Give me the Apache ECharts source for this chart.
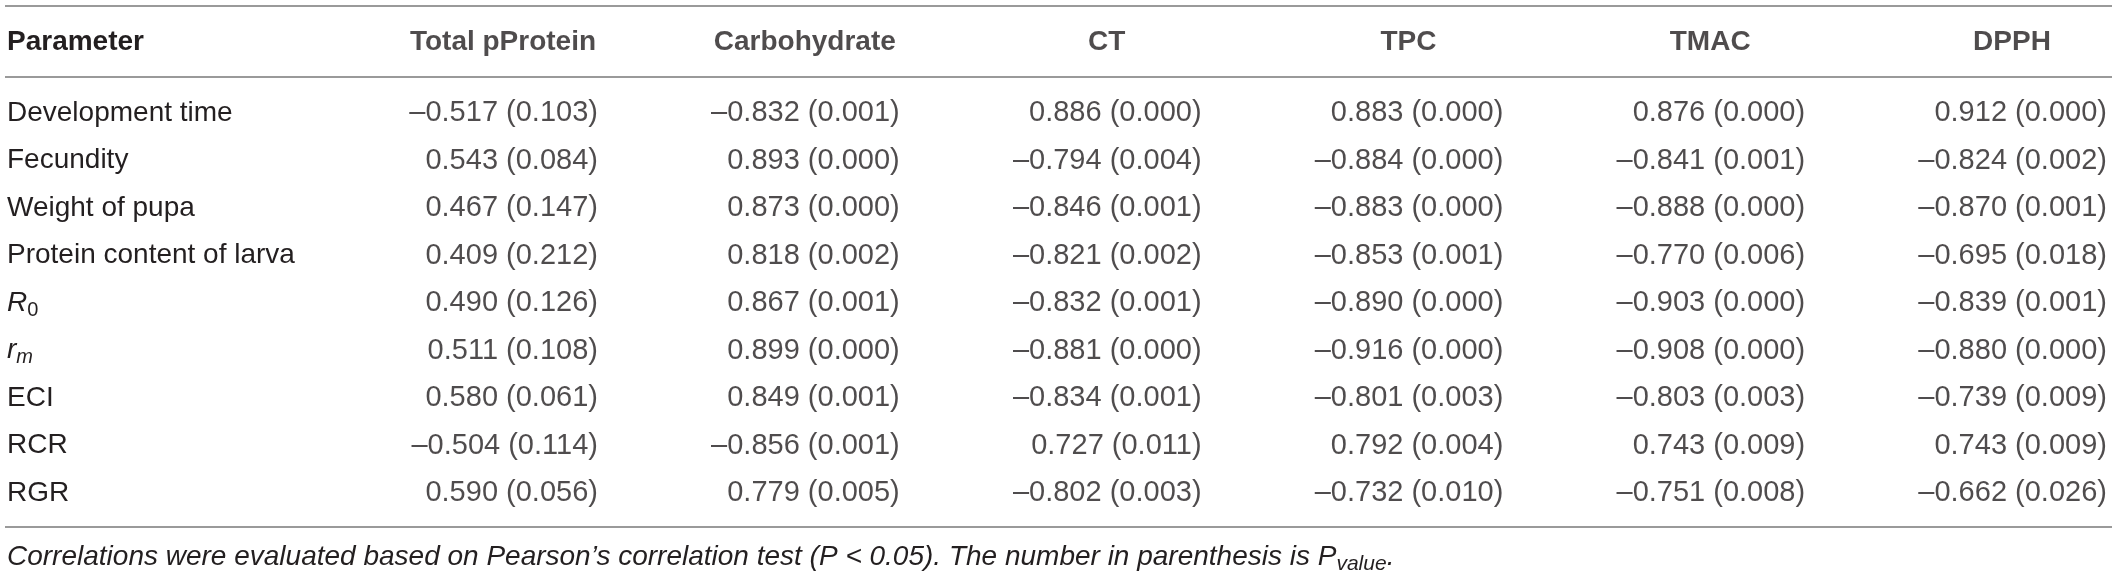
<!DOCTYPE html>
<html><head><meta charset="utf-8">
<script src="https://cdn.jsdelivr.net/npm/echarts@6/dist/echarts.min.js"></script>
<style>html,body{margin:0;padding:0;background:#fff}#c{width:2118px;height:575px}</style>
</head><body><div id="c"></div>
<script>
// ---- data ----
const parameters = ['Development time','Fecundity','Weight of pupa','Protein content of larva','R0','rm','ECI','RCR','RGR'];
const columns = ['Total pProtein','Carbohydrate','CT','TPC','TMAC','DPPH'];
const totalProteinR = [-0.517, 0.543, 0.467, 0.409, 0.490, 0.511, 0.580, -0.504, 0.590];
const totalProteinP = [0.103, 0.084, 0.147, 0.212, 0.126, 0.108, 0.061, 0.114, 0.056];
const carbohydrateR = [-0.832, 0.893, 0.873, 0.818, 0.867, 0.899, 0.849, -0.856, 0.779];
const carbohydrateP = [0.001, 0.000, 0.000, 0.002, 0.001, 0.000, 0.001, 0.001, 0.005];
const ctR = [0.886, -0.794, -0.846, -0.821, -0.832, -0.881, -0.834, 0.727, -0.802];
const ctP = [0.000, 0.004, 0.001, 0.002, 0.001, 0.000, 0.001, 0.011, 0.003];
const tpcR = [0.883, -0.884, -0.883, -0.853, -0.890, -0.916, -0.801, 0.792, -0.732];
const tpcP = [0.000, 0.000, 0.000, 0.001, 0.000, 0.000, 0.003, 0.004, 0.010];
const tmacR = [0.876, -0.841, -0.888, -0.770, -0.903, -0.908, -0.803, 0.743, -0.751];
const tmacP = [0.000, 0.001, 0.000, 0.006, 0.000, 0.000, 0.003, 0.009, 0.008];
const dpphR = [0.912, -0.824, -0.870, -0.695, -0.839, -0.880, -0.739, 0.743, -0.662];
const dpphP = [0.000, 0.002, 0.001, 0.018, 0.001, 0.000, 0.009, 0.009, 0.026];
const footnote = 'Correlations were evaluated based on Pearson\u2019s correlation test (P < 0.05). The number in parenthesis is P';

// ---- build ----
const rValues = [totalProteinR, carbohydrateR, ctR, tpcR, tmacR, dpphR];
const pValues = [totalProteinP, carbohydrateP, ctP, tpcP, tmacP, dpphP];
const fmt = v => (v < 0 ? '\u2013' : '') + Math.abs(v).toFixed(3);
const cells = [];
rValues.forEach((col, c) => col.forEach((r, i) => {
  cells.push([c, i, fmt(r) + ' (' + pValues[c][i].toFixed(3) + ')']);
}));
const headerCells = columns.map((name, c) => [c, 0, name]);

const W = 2118;
const colStep = 301.8;   // px per column
const firstRight = 598;  // px right edge of first data column
const xMin = -firstRight / colStep;
const xMax = xMin + W / colStep;

const FONT = '"Liberation Sans", Arial, Helvetica, sans-serif';
const TXT = '#231f20';

const chart = echarts.init(document.getElementById('c'), null, {renderer: 'canvas'});
const labelRich = {
  it: {fontStyle: 'italic', fontSize: 28, fontFamily: FONT, color: TXT},
  sub: {fontSize: 20, fontFamily: FONT, color: TXT, padding: [14, 0, 0, 0]},
  subit: {fontSize: 20, fontStyle: 'italic', fontFamily: FONT, color: TXT, padding: [14, 0, 0, 0]}
};
chart.setOption({
  animation: false,
  backgroundColor: '#fff',
  grid: [
    {left: 0, right: 0, top: 22, height: 40},
    {left: 0, right: 0, top: 89.25, height: 427.5}
  ],
  xAxis: [
    {gridIndex: 0, type: 'value', min: xMin, max: xMax, show: false},
    {gridIndex: 1, type: 'value', min: xMin, max: xMax, show: false}
  ],
  yAxis: [
    {gridIndex: 0, type: 'category', data: ['Parameter'], inverse: true,
     axisLine: {show: false}, axisTick: {show: false}, splitLine: {show: false},
     axisLabel: {align: 'left', margin: -7, fontSize: 28, fontWeight: 'bold', color: TXT, fontFamily: FONT}},
    {gridIndex: 1, type: 'category', data: parameters, inverse: true,
     axisLine: {show: false}, axisTick: {show: false}, splitLine: {show: false},
     axisLabel: {align: 'left', margin: -7, fontSize: 28, color: TXT, fontFamily: FONT, rich: labelRich,
       formatter: v => v === 'R0' ? '{it|R}{sub|0}' : (v === 'rm' ? '{it|r}{subit|m}' : v)}}
  ],
  series: [
    {type: 'scatter', xAxisIndex: 0, yAxisIndex: 0, data: headerCells, symbolSize: 0.1,
     itemStyle: {color: 'rgba(0,0,0,0)'}, silent: true,
     label: {show: true, position: 'inside', offset: [-95, 0], formatter: p => p.data[2],
       fontSize: 28, fontWeight: 'bold', color: TXT, fontFamily: FONT}},
    {type: 'scatter', xAxisIndex: 1, yAxisIndex: 1, data: cells, symbolSize: 0.1,
     itemStyle: {color: 'rgba(0,0,0,0)'}, silent: true,
     label: {show: true, position: 'left', distance: 0, formatter: p => p.data[2],
       fontSize: 29, color: TXT, fontFamily: FONT}}
  ],
  graphic: [
    {type: 'line', shape: {x1: 5, y1: 6, x2: 2112, y2: 6}, style: {stroke: '#9a9a9a', lineWidth: 2}},
    {type: 'line', shape: {x1: 5, y1: 77, x2: 2112, y2: 77}, style: {stroke: '#9a9a9a', lineWidth: 2}},
    {type: 'line', shape: {x1: 5, y1: 527, x2: 2112, y2: 527}, style: {stroke: '#9a9a9a', lineWidth: 2}},
    {type: 'text', x: 7, y: 557, style: {
      text: '{n|' + footnote + '}{s|value}{n|.}',
      verticalAlign: 'middle',
      rich: {
        n: {fontSize: 28, fontStyle: 'italic', fontFamily: FONT, fill: TXT},
        s: {fontSize: 21, fontStyle: 'italic', fontFamily: FONT, fill: TXT, padding: [14, 0, 0, 0]}
      }
    }}
  ]
});
</script></body></html>
